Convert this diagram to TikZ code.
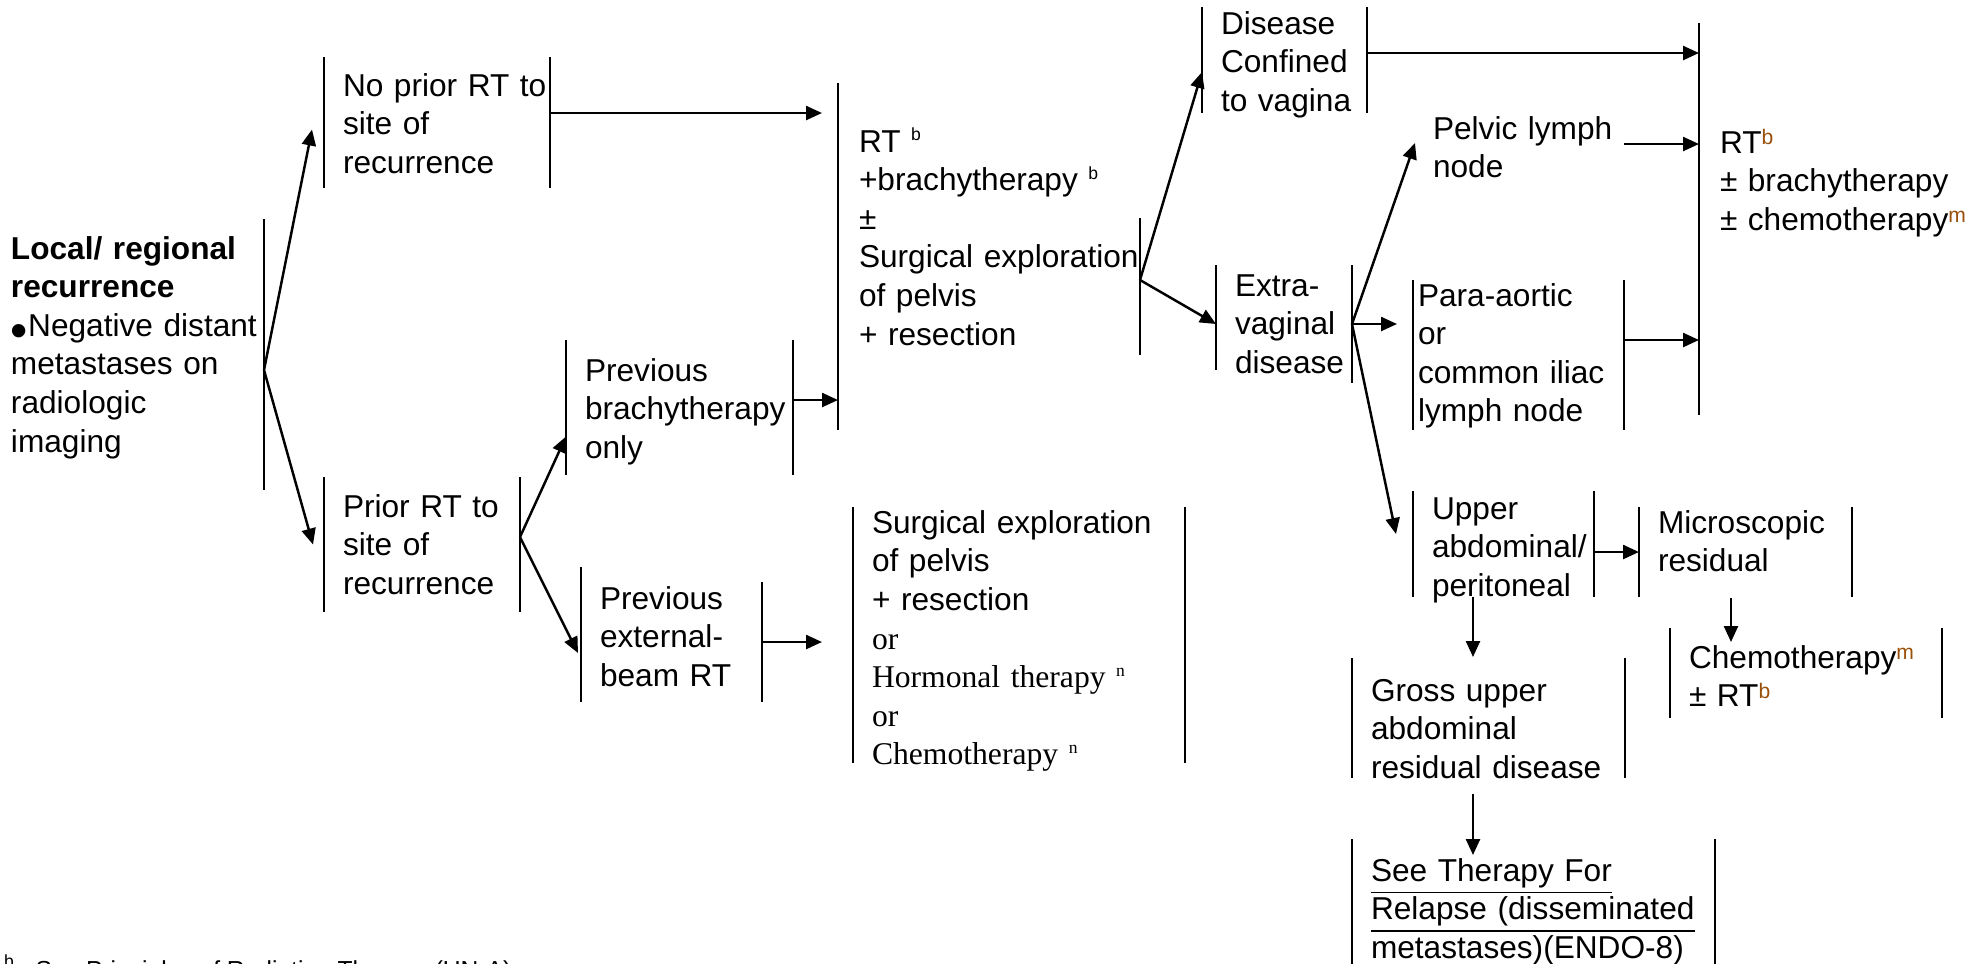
\documentclass[tikz,border=0pt]{standalone}
\usepackage{fontspec}
\setmainfont{Liberation Sans}
\newfontfamily\timesfont{Liberation Serif}
\usetikzlibrary{arrows.meta}
\definecolor{supbrown}{RGB}{153,80,10}
\newcommand{\supb}[1]{\raisebox{3.2pt}{\fontsize{5}{6}\selectfont #1}}
\newcommand{\supbr}[1]{\raisebox{2.3pt}{\fontsize{6}{7}\selectfont\color{supbrown}#1}}
\hyphenpenalty=10000
\begin{document}
\begin{tikzpicture}[inner sep=0pt,outer sep=0pt,line width=0.6pt,
  font=\fontsize{9}{11}\selectfont,
  txtpad/.initial=0.19cm,
  tbox/.style={anchor=north west,text width=#1,
    execute at begin node={\leftskip=\pgfkeysvalueof{/tikz/txtpad}\relax\rightskip=0pt plus 1fil}},
  lbar/.style={append after command={(\tikzlastnode.north west) edge (\tikzlastnode.south west)}},
  rbar/.style={append after command={(\tikzlastnode.north east) edge (\tikzlastnode.south east)}},
  bars/.style={lbar,rbar},
  arr/.style={-{Triangle[length=0.16cm,width=0.14cm]},line width=0.7pt}]
\useasboundingbox (0,0) rectangle (19.82,-9.63);
\clip (0,0) rectangle (19.82,-9.63);
% left part
\draw (0,-2.19) node[tbox=2.64cm,rbar,text height=0.40cm,text depth=2.31cm,txtpad=0.11cm] (root)
  {\textbf{Local/ regional}\\ \textbf{recurrence}\\ \smash{\raisebox{-3.3pt}{\fontsize{14}{14}\selectfont\textbullet}}Negative distant\\ metastases on\\ radiologic\\ imaging};
\draw (3.24,-0.57) node[tbox=2.26cm,bars,text height=0.39cm,text depth=0.92cm] (noprior) {No prior RT to\\ site of\\ recurrence};
\draw (3.24,-4.77) node[tbox=1.96cm,bars,text height=0.40cm,text depth=0.95cm] (prior) {Prior RT to\\ site of\\ recurrence};
\draw (5.66,-3.40) node[tbox=2.27cm,bars,text height=0.41cm,text depth=0.94cm] (prevbrachy) {Previous\\ brachytherapy\\ only};
\draw (5.81,-5.82) node[tbox=1.81cm,bars,text height=0.27cm,text depth=0.93cm] (prevext) {Previous\\ external-\\ beam RT};
\draw (prevext.north west) -- ++(0,0.15);
\draw (8.53,-5.07) node[tbox=3.32cm,bars,text height=0.26cm,text depth=2.30cm] (surg)
  {Surgical exploration\\ of pelvis\\ + resection\\ {\timesfont or}\\ {\timesfont Hormonal therapy \supb{n}}\\ {\timesfont or}\\ {\timesfont Chemotherapy \supb{n}}};
% middle part
\draw (8.38,-0.83) node[tbox=3.02cm,lbar,text height=0.69cm,text depth=2.78cm,txtpad=0.21cm] (rt)
  {RT \supb{b}\\ +brachytherapy \supb{b}\\ ±\\ Surgical exploration\\ of pelvis\\ + resection};
\draw (rt.north east) ++(0,-1.35) -- ++(0,-1.37);
\draw (12.02,-0.07) node[tbox=1.65cm,bars,text height=0.27cm,text depth=0.79cm] (disease) {Disease\\ Confined\\ to vagina};
\draw (12.16,-2.65) node[tbox=1.36cm,rbar,text height=0.31cm,text depth=0.87cm] (extra) {Extra-\\ vaginal\\ disease};
\draw (extra.north west) -- ++(0,-1.05);
% right part
\draw (14.33,-1.12) node[tbox=2.2cm,text height=0.27cm,text depth=0.51cm,txtpad=0cm] (pelvic) {Pelvic lymph\\ node};
\draw (14.13,-2.80) node[tbox=2.11cm,bars,text height=0.26cm,text depth=1.24cm,txtpad=0.05cm] (para) {Para-aortic\\ or\\ common iliac\\ lymph node};
\draw (16.99,-0.23) node[tbox=2.83cm,lbar,text height=1.30cm,text depth=2.62cm,txtpad=0.21cm] (rtb)
  {RT\supbr{b}\\ ± brachytherapy\\ ± chemotherapy\supbr{m}};
\draw (14.13,-4.91) node[tbox=1.81cm,bars,text height=0.28cm,text depth=0.78cm] (upper) {Upper\\ abdominal/\\ peritoneal};
\draw (16.39,-5.07) node[tbox=2.13cm,bars,text height=0.26cm,text depth=0.64cm] (micro) {Microscopic\\ residual};
\draw (16.70,-6.28) node[tbox=2.72cm,bars,text height=0.40cm,text depth=0.50cm] (chemo) {Chemotherapy\supbr{m}\\ ± RT\supbr{b}};
\draw (13.52,-6.58) node[tbox=2.73cm,bars,text height=0.43cm,text depth=0.77cm] (gross) {Gross upper\\ abdominal\\ residual disease};
\draw (13.52,-8.39) node[tbox=3.63cm,bars,text height=0.42cm,text depth=1.03cm] (see)
  {\underline{See Therapy For}\\ \underline{Relapse (disseminated}\\ \underline{metastases)(ENDO-8)}};
\draw (0.04,-9.78) node[anchor=base west,font=\fontsize{7}{8}\selectfont] (foot)
  {\textsuperscript{b}\hspace{0.2cm}See Principles of Radiation Therapy (UN-A)};
% arrows
\coordinate (rootfork) at ([yshift=-0.155cm]root.east);
\draw[arr] (rootfork) -- ([xshift=-0.12cm,yshift=-0.07cm]noprior.west);
\draw[arr] (rootfork) -- ([xshift=-0.11cm]prior.west);
\draw[arr] ([yshift=0.095cm]noprior.east) -- ([xshift=-0.16cm,yshift=0.095cm]noprior.east -| rt.west);
\coordinate (priorfork) at ([yshift=0.075cm]prior.east);
\draw[arr] (priorfork) -- ([yshift=-0.29cm]prevbrachy.west);
\draw[arr] (priorfork) -- ([xshift=-0.03cm,yshift=-0.11cm]prevext.west);
\draw[arr] ([yshift=0.075cm]prevbrachy.east) -- ([yshift=0.075cm]prevbrachy.east -| rt.west);
\draw[arr] (prevext.east) -- ([xshift=-0.31cm]prevext.east -| surg.west);
\coordinate (rtfork) at ([yshift=-0.235cm]rt.east);
\draw[arr] (rtfork) -- ([yshift=-0.12cm]disease.west);
\draw[arr] (rtfork) -- (extra.west);
\draw[arr] ([yshift=0.07cm]disease.east) -- ([yshift=0.07cm]disease.east -| rtb.west);
\draw[arr] (extra.east) -- ([xshift=-0.18cm,yshift=0.08cm]pelvic.west);
\draw[arr] (extra.east) -- ([xshift=-0.16cm]extra.east -| para.west);
\draw[arr] (extra.east) -- ([xshift=-0.17cm,yshift=0.1cm]upper.west);
\draw[arr] ([yshift=0.07cm]pelvic.east -| para.east) -- ([yshift=0.07cm]pelvic.east -| rtb.west);
\draw[arr] ([yshift=0.15cm]para.east) -- ([yshift=0.15cm]para.east -| rtb.west);
\draw[arr] ([yshift=-0.08cm]upper.east) -- ([yshift=-0.08cm]upper.east -| micro.west);
\draw[arr] ([xshift=-0.145cm,yshift=-0.01cm]micro.south) -- ++(0,-0.44);
\draw[arr] ([xshift=-0.305cm]upper.south) -- ++(0,-0.60);
\draw[arr] ([xshift=-0.155cm,yshift=-0.16cm]gross.south) -- ([xshift=-0.155cm,yshift=-0.16cm]gross.south |- see.north);
\end{tikzpicture}
\end{document}
